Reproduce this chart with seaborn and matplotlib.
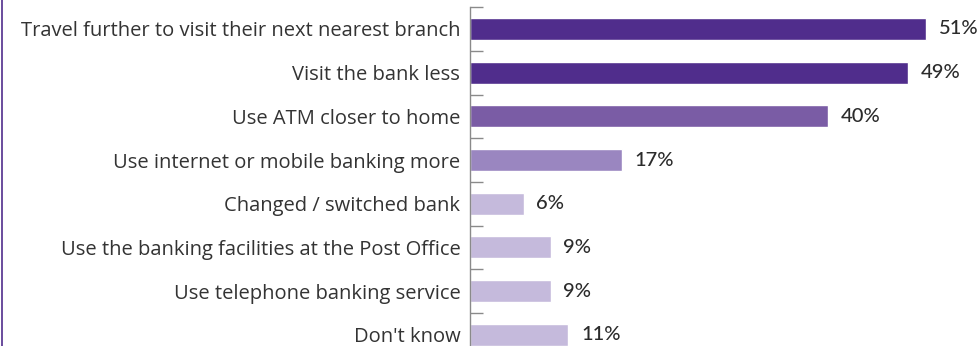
import matplotlib
matplotlib.use("Agg")
import matplotlib.pyplot as plt
from matplotlib.lines import Line2D
import seaborn as sns
import pandas as pd

categories = [
    "Travel further to visit their next nearest branch",
    "Visit the bank less",
    "Use ATM closer to home",
    "Use internet or mobile banking more",
    "Changed / switched bank",
    "Use the banking facilities at the Post Office",
    "Use telephone banking service",
    "Don't know",
]
values = [51, 49, 40, 17, 6, 9, 9, 11]
colors = ["#502D8C", "#502D8C", "#7A5CA5", "#9A86C0",
          "#C5BADC", "#C5BADC", "#C5BADC", "#C5BADC"]

df = pd.DataFrame({"category": categories, "value": values})

sns.set_theme(style="white")
plt.rcParams["font.family"] = ["Lato", "DejaVu Sans"]

fig = plt.figure(figsize=(9.8, 3.46), dpi=100)
ax = fig.add_axes([470 / 980, 0, 1 - 470 / 980, 1])

sns.barplot(data=df, y="category", x="value", hue="category",
            palette=colors, width=0.5, orient="h", legend=False,
            saturation=1, ax=ax)

ax.set_xlabel("")
ax.set_ylabel("")
ax.set_xticks([])

for s in ["top", "right", "bottom"]:
    ax.spines[s].set_visible(False)
ax.spines["left"].set_color("#8a8a8a")
ax.spines["left"].set_linewidth(1.0)
ax.spines["left"].set_bounds(-0.5, 7.5)

# category labels on the major ticks, separator marks on the minor ticks
ax.set_yticks(range(len(categories)))
ax.set_yticklabels(categories, fontsize=14.5, color="#333333",
                   family=["Open Sans", "DejaVu Sans"])
ax.tick_params(axis="y", which="major", left=True, length=0, pad=7)
ax.set_yticks([i - 0.5 for i in range(len(categories) + 1)], minor=True)
ax.tick_params(axis="y", which="minor", left=True, direction="in",
               length=9.5, width=1.0, color="#8a8a8a")

# limits last, so the tick setters cannot widen them
ax.set_xlim(0, 57)
ax.set_ylim(7.259, -0.664)

for i, v in enumerate(values):
    ax.text(v + 1.4, i, f"{v}%", va="center", ha="left",
            fontsize=14.5, color="#2b2b2b", fontweight="medium")

fig.add_artist(Line2D([1.5 / 980, 1.5 / 980], [0, 1],
                      transform=fig.transFigure, color="#502D8C", lw=1.2))

fig.savefig("out.png", dpi=100)
